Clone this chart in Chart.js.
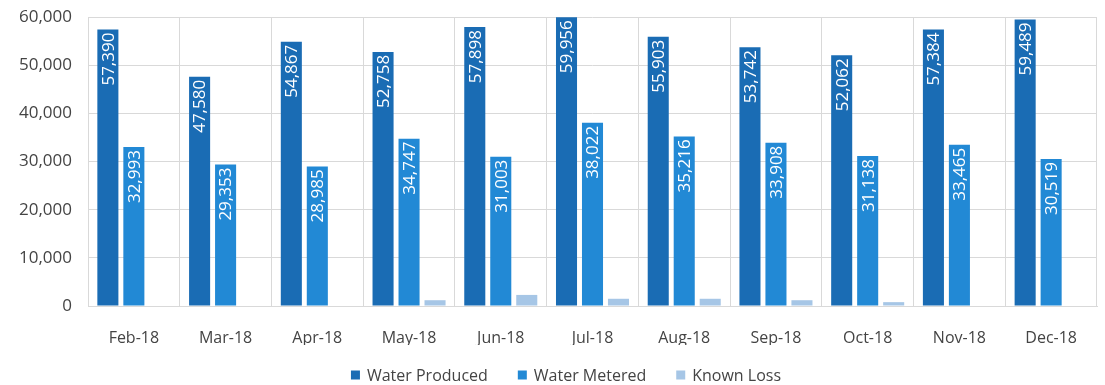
<!DOCTYPE html>
<html>
<head>
<meta charset="utf-8">
<script src="https://cdn.jsdelivr.net/npm/chart.js@4"></script>
<style>
  html, body { margin: 0; padding: 0; background: #fff; }
  #wrap { width: 1105px; height: 385px; position: relative; }
</style>
</head>
<body>
<div id="wrap"><canvas id="c" width="1105" height="385"></canvas></div>
<script>
// Monthly water balance, 2018
const months = ['Feb-18','Mar-18','Apr-18','May-18','Jun-18','Jul-18','Aug-18','Sep-18','Oct-18','Nov-18','Dec-18'];
const waterProduced = [57390, 47580, 54867, 52758, 57898, 59956, 55903, 53742, 52062, 57384, 59489];
const waterMetered  = [32993, 29353, 28985, 34747, 31003, 38022, 35216, 33908, 31138, 33465, 30519];
const knownLoss     = [0, 0, 0, 1200, 2300, 1500, 1500, 1200, 800, 0, 0];
const yTicks = [0, 10000, 20000, 30000, 40000, 50000, 60000];

const FONT = "'Open Sans', 'Liberation Sans', sans-serif";
const fmt = v => v.toLocaleString('en-US');

// Draws each labelled bar's value inside the bar, rotated, reading upward from the top end
const insideLabels = {
  id: 'insideLabels',
  afterDatasetsDraw(chart) {
    const ctx = chart.ctx;
    chart.data.datasets.forEach((ds, di) => {
      if (!ds.showValues) return;
      const meta = chart.getDatasetMeta(di);
      meta.data.forEach((bar, i) => {
        const v = ds.data[i];
        ctx.save();
        ctx.translate(bar.x, bar.y + 3);
        ctx.rotate(-Math.PI / 2);
        ctx.font = '17px ' + FONT;
        ctx.fillStyle = '#ffffff';
        ctx.textAlign = 'right';
        ctx.textBaseline = 'middle';
        ctx.fillText(fmt(v), 0, 1);
        ctx.restore();
      });
    });
  }
};

// Single-row legend under the month labels, built from the datasets
const bottomLegend = {
  id: 'bottomLegend',
  afterDraw(chart, args, opts) {
    const ctx = chart.ctx;
    const box = 9, gapText = 7, gapItem = 30;
    ctx.save();
    ctx.font = '16px ' + FONT;
    ctx.textBaseline = 'middle';
    ctx.textAlign = 'left';
    const items = chart.data.datasets.map(ds => ({
      text: ds.label, color: ds.backgroundColor, w: ctx.measureText(ds.label).width
    }));
    const total = items.reduce((s, it) => s + box + gapText + it.w, 0) + gapItem * (items.length - 1);
    let x = opts.centerX - total / 2;
    const y = opts.centerY;
    items.forEach(it => {
      ctx.fillStyle = it.color;
      ctx.fillRect(x, y - box / 2, box, box);
      x += box + gapText;
      ctx.fillStyle = '#444';
      ctx.fillText(it.text, x, y + 1);
      x += it.w + gapItem;
    });
    ctx.restore();
  }
};

new Chart(document.getElementById('c'), {
  type: 'bar',
  data: {
    labels: months,
    datasets: [
      { label: 'Water Produced', data: waterProduced, backgroundColor: '#1a6cb4', showValues: true },
      { label: 'Water Metered',  data: waterMetered,  backgroundColor: '#2289d5', showValues: true },
      { label: 'Known Loss',     data: knownLoss,     backgroundColor: '#a6c6e6', showValues: false }
    ]
  },
  options: {
    responsive: false,
    animation: false,
    devicePixelRatio: 1,
    datasets: { bar: { categoryPercentage: 0.85, barPercentage: 0.81 } },
    layout: { autoPadding: false, padding: { top: 17, right: 8, left: 0, bottom: 40 } },
    plugins: {
      tooltip: { enabled: false },
      legend: { display: false },
      bottomLegend: { centerX: 566, centerY: 375 }
    },
    scales: {
      x: {
        clip: false,
        afterFit(axis) { axis.height = 39; },
        grid: { color: '#d9d9d9', offset: true, drawTicks: false },
        border: { color: '#d9d9d9' },
        ticks: { color: '#444', font: { family: FONT, size: 16 }, padding: 23 }
      },
      y: {
        clip: false,
        min: 0, max: 60000,
        afterBuildTicks(axis) { axis.ticks = yTicks.map(v => ({ value: v })); },
        afterFit(axis) {
          axis.width = 88;
          // keep the plot top fixed by the layout padding alone
          axis.paddingTop = 0;
          axis.paddingBottom = 0;
        },
        grid: { color: '#d9d9d9', drawTicks: false },
        border: { display: false },
        ticks: { color: '#444', font: { family: FONT, size: 17 }, padding: 16, callback: v => fmt(v) }
      }
    }
  },
  plugins: [insideLabels, bottomLegend]
});
</script>
</body>
</html>
